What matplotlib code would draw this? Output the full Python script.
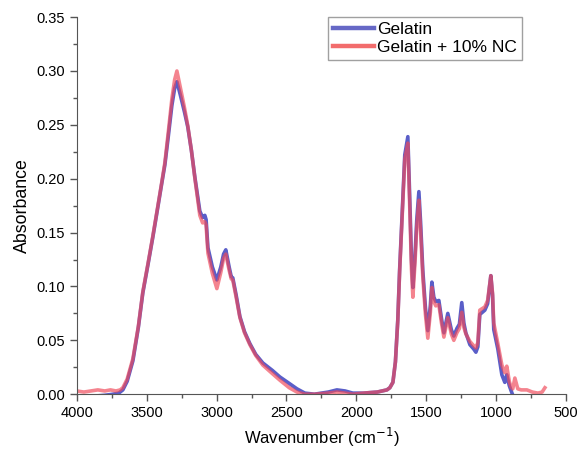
import matplotlib
matplotlib.use("Agg")
import matplotlib.pyplot as plt
from matplotlib.ticker import MultipleLocator
import numpy as np

# wavenumbers (cm-1) and absorbance
wn_gel = [4000, 3900, 3800, 3742, 3700, 3671, 3640, 3599, 3560, 3528, 3490, 3456, 3420,
          3392, 3370, 3345, 3320, 3300, 3284, 3260, 3230, 3206, 3180, 3155, 3120, 3100,
          3084, 3075, 3062, 3030, 2998, 2970, 2950, 2934, 2910, 2895, 2884, 2860, 2833,
          2800, 2762, 2720, 2669, 2600, 2547, 2480, 2425, 2368, 2300, 2200, 2139, 2080,
          2025, 1950, 1850, 1781, 1760, 1738, 1720, 1703, 1690, 1674, 1653, 1631, 1617,
          1605, 1595, 1580, 1567, 1552, 1540, 1524, 1505, 1488, 1470, 1459, 1445, 1431,
          1409, 1390, 1373, 1345, 1320, 1302, 1280, 1262, 1245, 1230, 1216, 1187, 1160,
          1144, 1130, 1116, 1080, 1060, 1048, 1037, 1025, 1016, 987, 958, 937, 923, 905,
          894, 880, 860, 820, 760, 700]
abs_gel = [-0.002, -0.002, -0.001, 0.000, 0.001, 0.004, 0.012, 0.031, 0.062, 0.094, 0.121,
           0.146, 0.174, 0.196, 0.213, 0.240, 0.268, 0.284, 0.290, 0.278, 0.262, 0.248,
           0.226, 0.201, 0.170, 0.164, 0.166, 0.162, 0.136, 0.118, 0.106, 0.118, 0.130,
           0.134, 0.118, 0.109, 0.108, 0.092, 0.072, 0.058, 0.047, 0.037, 0.029, 0.022,
           0.016, 0.010, 0.005, 0.001, 0.000, 0.002, 0.004, 0.003, 0.001, 0.001, 0.002,
           0.004, 0.006, 0.011, 0.030, 0.069, 0.115, 0.161, 0.222, 0.239, 0.180, 0.125,
           0.099, 0.128, 0.162, 0.188, 0.160, 0.115, 0.080, 0.059, 0.082, 0.104, 0.090,
           0.086, 0.087, 0.070, 0.057, 0.075, 0.060, 0.054, 0.061, 0.065, 0.085, 0.066,
           0.057, 0.046, 0.042, 0.039, 0.044, 0.074, 0.078, 0.084, 0.098, 0.110, 0.092,
           0.060, 0.042, 0.018, 0.011, 0.018, 0.008, 0.004, -0.001, -0.002, -0.002,
           -0.002, -0.002]

wn_nc = [4000, 3950, 3900, 3850, 3800, 3760, 3720, 3690, 3671, 3640, 3599, 3560, 3528, 3490,
         3456, 3420, 3392, 3370, 3345, 3320, 3300, 3284, 3260, 3230, 3206, 3180, 3155, 3120,
         3100, 3084, 3075, 3062, 3030, 2998, 2970, 2950, 2934, 2910, 2895, 2884, 2860, 2833,
         2800, 2762, 2720, 2669, 2600, 2547, 2480, 2425, 2368, 2300, 2200, 2139, 2080, 2025,
         1950, 1850, 1781, 1760, 1738, 1720, 1703, 1690, 1674, 1653, 1631, 1617, 1605, 1595,
         1580, 1567, 1552, 1540, 1524, 1505, 1488, 1470, 1459, 1445, 1431, 1409, 1390, 1373,
         1345, 1320, 1302, 1280, 1262, 1245, 1230, 1216, 1187, 1160, 1144, 1130, 1116, 1080,
         1060, 1048, 1037, 1025, 1016, 987, 958, 937, 923, 905, 894, 880, 865, 844, 820, 779,
         740, 700, 670, 650]
abs_nc = [0.003, 0.002, 0.003, 0.004, 0.003, 0.004, 0.003, 0.004, 0.006, 0.014, 0.033,
          0.063, 0.095, 0.122, 0.147, 0.175, 0.197, 0.215, 0.244, 0.274, 0.292, 0.300,
          0.285, 0.266, 0.249, 0.226, 0.200, 0.166, 0.159, 0.160, 0.157, 0.131, 0.112,
          0.098, 0.113, 0.126, 0.130, 0.115, 0.107, 0.106, 0.090, 0.071, 0.057, 0.046,
          0.036, 0.027, 0.019, 0.013, 0.006, 0.002, 0.000, 0.000, 0.001, 0.002, 0.001,
          0.000, 0.001, 0.002, 0.004, 0.006, 0.011, 0.030, 0.068, 0.113, 0.158, 0.218,
          0.233, 0.172, 0.116, 0.090, 0.122, 0.156, 0.180, 0.152, 0.109, 0.074, 0.052,
          0.076, 0.099, 0.086, 0.082, 0.083, 0.066, 0.053, 0.071, 0.056, 0.050, 0.057,
          0.061, 0.076, 0.062, 0.056, 0.049, 0.045, 0.043, 0.048, 0.078, 0.081, 0.087,
          0.099, 0.110, 0.094, 0.066, 0.047, 0.027, 0.020, 0.026, 0.012, 0.007, 0.005,
          0.015, 0.005, 0.004, 0.004, 0.002, 0.001, 0.002, 0.006]

plt.rcParams['font.family'] = ['Liberation Sans', 'DejaVu Sans']

fig = plt.figure(figsize=(5.78, 4.5), dpi=100)
ax = fig.add_axes([0.133, 0.124, 0.846, 0.838])

ax.plot(wn_gel, abs_gel, color='#5a5ec8', lw=2.6, label='Gelatin', solid_joinstyle='round')
ax.plot(wn_nc, abs_nc, color='#f04a5a', lw=2.6, alpha=0.68, label='Gelatin + 10% NC',
        solid_joinstyle='round')

ax.set_xlim(4000, 500)
ax.set_ylim(0, 0.35)
ax.xaxis.set_major_locator(MultipleLocator(500))
ax.xaxis.set_minor_locator(MultipleLocator(250))
ax.yaxis.set_major_locator(MultipleLocator(0.05))
ax.yaxis.set_minor_locator(MultipleLocator(0.025))
ax.yaxis.set_major_formatter(matplotlib.ticker.FormatStrFormatter('%.2f'))
ax.tick_params(which='major', direction='out', length=5, width=1, labelsize=10.5,
               color='#555555')
ax.tick_params(which='minor', direction='out', length=3, width=1, color='#555555')

for s in ['top', 'right']:
    ax.spines[s].set_visible(False)
for s in ['left', 'bottom']:
    ax.spines[s].set_color('#555555')

ax.set_xlabel('Wavenumber (cm$^{-1}$)', fontsize=12)
ax.set_ylabel('Absorbance', fontsize=12.8)

leg = ax.legend(loc='upper right', bbox_to_anchor=(0.5, 1.0, 0.41, 0.0), fontsize=12.5,
                fancybox=False, edgecolor='#888888', handlelength=2.35, handletextpad=0.15,
                borderpad=0.3, labelspacing=0.15, borderaxespad=0.0)
leg.get_frame().set_linewidth(1.0)
leg_cols = ['#6668c6', '#f26c6c']
for h, c in zip(leg.get_lines(), leg_cols):
    h.set_alpha(1.0)
    h.set_color(c)
    h.set_linewidth(3.2)

fig.savefig('out.png', dpi=100)
